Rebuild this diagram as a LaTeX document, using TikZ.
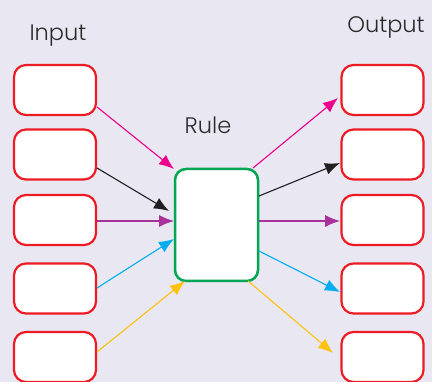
\documentclass[tikz,border=0pt]{standalone}
\usepackage{fontspec}
\IfFontExistsTF{Poppins Light}{\setmainfont{Poppins Light}}{\setmainfont{Poppins}}
\usetikzlibrary{arrows.meta}
\definecolor{bg}{HTML}{E8E7F2}
\definecolor{boxred}{HTML}{ED1C24}
\definecolor{rulegreen}{HTML}{00A651}
\definecolor{apink}{HTML}{EC008C}
\definecolor{ablack}{HTML}{231F20}
\definecolor{apurple}{HTML}{A8329A}
\definecolor{acyan}{HTML}{00AEEF}
\definecolor{ayellow}{HTML}{FFC20E}
\definecolor{txt}{HTML}{2B2B2B}
\tikzset{
  iobox/.style={draw=boxred, line width=2.2pt, fill=white, rounded corners=12pt,
    minimum width=82pt, minimum height=50pt, inner sep=0pt},
  rulebox/.style={draw=rulegreen, line width=2.5pt, fill=white, rounded corners=11pt,
    minimum width=83pt, minimum height=112pt, inner sep=0pt},
  lbl/.style={text=txt, font=\fontsize{22.5}{26}\selectfont, inner sep=0pt, anchor=base},
  conn/.style={line width=1.1pt, -{Latex[length=15pt,width=12pt]}},
}
\begin{document}
\begin{tikzpicture}[x=1pt,y=-1pt]
\fill[bg] (0,0) rectangle (432,382);
\useasboundingbox (0,0) rectangle (432,382);
\node[lbl] (tin) at (58,41) {Input};
\node[lbl] (trule) at (208,134) {Rule};
\node[lbl] (tout) at (386,33) {Output};
\node[iobox] (in1) at (55,90) {};
\node[iobox] (in2) at (55,154.5) {};
\node[iobox] (in3) at (55,220) {};
\node[iobox] (in4) at (55,288.5) {};
\node[iobox] (in5) at (55,357) {};
\node[iobox] (out1) at (382.5,90) {};
\node[iobox] (out2) at (382.5,154.5) {};
\node[iobox] (out3) at (382.5,220) {};
\node[iobox] (out4) at (382.5,288.5) {};
\node[iobox] (out5) at (382.5,357) {};
\node[rulebox] (rule) at (216.5,225) {};
% connector ends
\coordinate (i1s) at (97,107);  \coordinate (i1e) at (174,169);
\coordinate (i2s) at (97,168);  \coordinate (i2e) at (169,211);
\coordinate (i3s) at (97,221);  \coordinate (i3e) at (174,221);
\coordinate (i4s) at (97,288);  \coordinate (i4e) at (174,239);
\coordinate (i5s) at (97,352);  \coordinate (i5e) at (185,281);
\coordinate (o1s) at (253,168); \coordinate (o1e) at (338,98);
\coordinate (o2s) at (259,196); \coordinate (o2e) at (340,163);
\coordinate (o3s) at (259,221); \coordinate (o3e) at (340,221);
\coordinate (o4s) at (259,251); \coordinate (o4e) at (340,292);
\coordinate (o5s) at (248,281); \coordinate (o5e) at (333,353);
\draw[conn, apink] (i1s) -- (i1e);
\draw[conn, ablack] (i2s) -- (i2e);
\draw[conn, apurple] (i3s) -- (i3e);
\draw[conn, acyan] (i4s) -- (i4e);
\draw[conn, ayellow] (i5s) -- (i5e);
\draw[conn, apink] (o1s) -- (o1e);
\draw[conn, ablack] (o2s) -- (o2e);
\draw[conn, apurple] (o3s) -- (o3e);
\draw[conn, acyan] (o4s) -- (o4e);
\draw[conn, ayellow] (o5s) -- (o5e);
\end{tikzpicture}
\end{document}
